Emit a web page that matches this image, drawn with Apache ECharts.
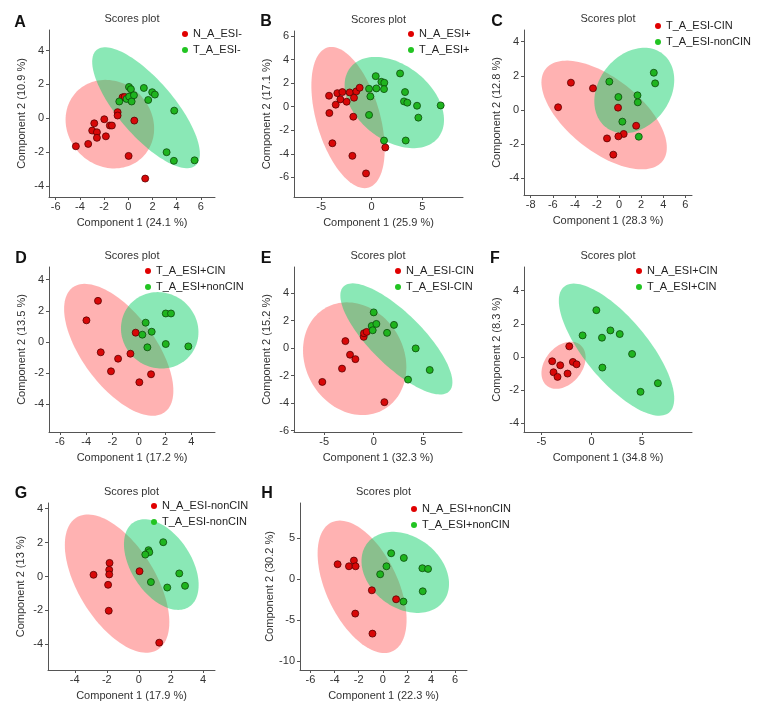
<!DOCTYPE html>
<html>
<head>
<meta charset="utf-8">
<script src="https://cdn.jsdelivr.net/npm/echarts@6/dist/echarts.min.js"></script>
<style>html,body{margin:0;padding:0;background:#fff}#c{width:757px;height:713px}</style>
</head>
<body>
<div id="c"></div>
<script>
// ---------- DATA ----------
const panelLetters = ['A','B','C','D','E','F','G','H'];
const panelTitle = 'Scores plot';
const redNames = ['N_A_ESI-','N_A_ESI+','T_A_ESI-CIN','T_A_ESI+CIN','N_A_ESI-CIN','N_A_ESI+CIN','N_A_ESI-nonCIN','N_A_ESI+nonCIN'];
const greenNames = ['T_A_ESI-','T_A_ESI+','T_A_ESI-nonCIN','T_A_ESI+nonCIN','T_A_ESI-CIN','T_A_ESI+CIN','T_A_ESI-nonCIN','T_A_ESI+nonCIN'];
const xTitles = ['Component 1 (24.1 %)','Component 1 (25.9 %)','Component 1 (28.3 %)','Component 1 (17.2 %)','Component 1 (32.3 %)','Component 1 (34.8 %)','Component 1 (17.9 %)','Component 1 (22.3 %)'];
const yTitles = ['Component 2 (10.9 %)','Component 2 (17.1 %)','Component 2 (12.8 %)','Component 2 (13.5 %)','Component 2 (15.2 %)','Component 2 (8.3 %)','Component 2 (13 %)','Component 2 (30.2 %)'];

const xTicks = [[-6,-4,-2,0,2,4,6],[-5,0,5],[-8,-6,-4,-2,0,2,4,6],[-6,-4,-2,0,2,4],[-5,0,5],[-5,0,5],[-4,-2,0,2,4],[-6,-4,-2,0,2,4,6]];
const yTicks = [[-4,-2,0,2,4],[-6,-4,-2,0,2,4,6],[-4,-2,0,2,4],[-4,-2,0,2,4],[-6,-4,-2,0,2,4],[-4,-2,0,2,4],[-4,-2,0,2,4],[-10,-5,0,5]];
const xRanges = [[-6.55,7.17],[-7.69,9.04],[-8.61,6.61],[-6.83,5.81],[-8.05,8.92],[-6.74,10.0],[-5.67,4.75],[-6.87,6.98]];
const yRanges = [[-4.66,5.22],[-7.66,6.42],[-4.97,4.68],[-5.77,4.81],[-6.1,5.9],[-4.52,5.42],[-5.51,4.33],[-11.1,9.33]];

const A_red = [[-4.33,-1.66],[-3.31,-1.52],[-2.98,-0.73],[-2.81,-0.30],[-2.59,-0.83],[-2.59,-1.16],[-1.98,-0.06],[-1.85,-1.07],[-1.52,-0.43],[-1.35,-0.43],[-0.88,0.36],[-0.88,0.16],[-0.47,1.24],[-0.30,1.26],[0.50,-0.14],[0.03,-2.23],[1.40,-3.57]];
const A_green = [[-0.74,0.99],[0.06,1.85],[0.22,1.72],[-0.14,1.14],[0.08,1.28],[0.28,0.99],[0.47,1.36],[1.29,1.79],[1.65,1.08],[1.98,1.54],[2.20,1.40],[3.80,0.45],[3.17,-2.01],[3.77,-2.52],[5.48,-2.49]];
const B_red = [[-4.22,0.93],[-4.19,-0.54],[-3.56,0.17],[-3.40,1.15],[-3.10,0.62],[-2.90,1.24],[-2.48,0.42],[-2.18,1.21],[-1.75,0.76],[-1.52,1.30],[-1.19,1.61],[-1.82,-0.85],[-3.89,-3.10],[-1.91,-4.17],[-0.56,-5.66],[1.35,-3.46]];
const B_green = [[0.40,2.59],[0.96,2.11],[1.25,2.03],[2.81,2.82],[-0.26,1.52],[0.46,1.55],[1.22,1.49],[-0.13,0.87],[3.30,1.24],[3.20,0.45],[3.53,0.34],[4.49,0.08],[4.62,-0.93],[6.83,0.11],[-0.26,-0.70],[1.22,-2.87],[3.37,-2.87]];
const C_red = [[-4.36,1.60],[-2.36,1.27],[-5.52,0.16],[-0.09,0.14],[1.55,-0.92],[0.42,-1.40],[-0.06,-1.54],[-1.09,-1.66],[-0.52,-2.61]];
const C_green = [[-0.88,1.66],[-0.06,0.76],[1.67,0.86],[1.70,0.45],[3.15,2.18],[3.27,1.56],[0.30,-0.68],[1.79,-1.56]];
const D_red = [[-3.10,2.64],[-3.98,1.39],[-2.89,-0.66],[-1.57,-1.07],[-2.11,-1.88],[-0.63,-0.75],[-0.23,0.60],[0.05,-2.58],[0.94,-2.07]];
const D_green = [[0.53,1.24],[0.28,0.47],[0.99,0.66],[0.66,-0.34],[2.06,1.83],[2.46,1.83],[2.06,-0.13],[3.78,-0.28]];
const E_red = [[-5.19,-2.46],[-3.20,-1.49],[-2.86,0.51],[-2.39,-0.48],[-1.85,-0.80],[-1.01,0.82],[-0.98,1.08],[-0.71,1.18],[1.08,-3.93]];
const E_green = [[0.0,2.60],[-0.20,1.61],[-0.10,1.30],[0.27,1.76],[2.05,1.69],[1.35,1.11],[4.24,-0.02],[3.47,-2.29],[5.66,-1.59]];
const F_red = [[-2.23,0.64],[-3.93,-0.26],[-3.80,-0.92],[-3.40,-1.20],[-3.13,-0.50],[-2.40,-1.00],[-1.87,-0.30],[-1.50,-0.44]];
const F_green = [[0.47,2.82],[-0.90,1.30],[1.03,1.16],[1.87,1.60],[2.80,1.38],[4.03,0.18],[1.07,-0.64],[4.87,-2.10],[6.60,-1.58]];
const G_red = [[-2.83,0.10],[-1.83,0.80],[-1.85,0.39],[-1.85,0.12],[-1.92,-0.49],[-1.88,-2.02],[0.04,0.31],[1.27,-3.90]];
const G_green = [[1.52,2.02],[0.60,1.55],[0.65,1.43],[0.40,1.29],[0.75,-0.33],[1.77,-0.65],[2.52,0.18],[2.88,-0.55]];
const H_red = [[-3.75,1.84],[-2.81,1.59],[-2.40,2.29],[-2.26,1.59],[-2.29,-4.20],[-0.91,-1.35],[-0.86,-6.65],[1.10,-2.45]];
const H_green = [[0.69,3.18],[1.74,2.61],[0.30,1.59],[-0.22,0.61],[3.28,1.35],[3.75,1.27],[3.31,-1.47],[1.71,-2.73]];

// confidence ellipses: [centerX, centerY, halfWidthX, halfHeightY, correlation]
const redEllipses = [[-1.52,-0.35,3.66,2.62,-0.1],[-2.34,-0.92,3.63,5.99,-0.45],[-1.35,-0.29,5.68,3.18,-0.6],[-1.52,-0.5,4.16,4.23,-0.62],[-1.92,-0.77,5.22,4.1,-0.15],[-2.8,-0.5,2.2,1.42,0.33],[-1.36,-0.42,3.26,4.07,-0.56],[-1.72,-0.92,3.69,8.1,-0.5]];
const greenEllipses = [[1.47,0.62,4.45,3.58,-0.76],[2.24,0.35,4.92,3.87,-0.38],[1.38,1.14,3.62,2.5,0.25],[1.6,0.75,2.95,2.45,-0.05],[2.29,0.67,5.66,4.04,-0.78],[2.48,0.44,5.75,3.98,-0.74],[1.4,0.7,2.33,2.67,-0.45],[1.86,0.84,3.63,4.96,-0.28]];

const redPoints = [A_red,B_red,C_red,D_red,E_red,F_red,G_red,H_red];
const greenPoints = [A_green,B_green,C_green,D_green,E_green,F_green,G_green,H_green];

// ---------- LAYOUT ----------
const grids = [
  {left:49, top:30, width:166, height:167},
  {left:294, top:31, width:169, height:166},
  {left:524, top:30, width:168, height:165},
  {left:49, top:267, width:166, height:165},
  {left:294, top:267, width:168, height:165},
  {left:524, top:267, width:168, height:165},
  {left:48, top:503, width:167, height:167},
  {left:300, top:503, width:167, height:167}
];
const legendPos = [[182,28],[408,28],[655,20],[145,265],[395,265],[636,265],[151,500],[411,503]];
const letterPos = [[20,23],[266,22],[497,22],[21,259],[266,259],[495,259],[21,494],[267,494]];

const FONT = 'Liberation Sans';
const RED_FILL = 'rgba(255,0,0,0.30)';
const GREEN_FILL = 'rgba(0,205,95,0.46)';
const RED_PT = '#d80808', RED_BORDER = '#5a0000';
const GREEN_PT = '#1fb41f', GREEN_BORDER = '#0b4a0b';

function renderEllipse(params, api){
  const cx = api.value(0), cy = api.value(1), sx = api.value(2), sy = api.value(3), r = api.value(4);
  const k = Math.sqrt(1 - r*r);
  const pts = [];
  for (let i = 0; i < 120; i++){
    const t = 2*Math.PI*i/120;
    pts.push(api.coord([cx + sx*Math.cos(t), cy + sy*(r*Math.cos(t) + k*Math.sin(t))]));
  }
  return {type:'polygon', shape:{points:pts}, style:{fill: api.visual('color')}, silent:true};
}

const option = {animation:false, grid:[], xAxis:[], yAxis:[], series:[], legend:[], graphic:[]};
const axisCommon = {
  type:'value', splitLine:{show:false},
  axisLine:{onZero:false, lineStyle:{color:'#555', width:1}},
  nameLocation:'middle',
  nameTextStyle:{fontFamily:FONT, fontSize:11, color:'#333'}
};
for (let i = 0; i < 8; i++){
  option.grid.push(Object.assign({containLabel:false}, grids[i]));
  option.xAxis.push(Object.assign({}, axisCommon, {
    gridIndex:i, min:xRanges[i][0], max:xRanges[i][1], name:xTitles[i], nameGap:20,
    axisTick:{show:true, length:3, customValues:xTicks[i], lineStyle:{color:'#555'}},
    axisLabel:{customValues:xTicks[i], fontFamily:FONT, fontSize:11, color:'#333', margin:4}
  }));
  option.yAxis.push(Object.assign({}, axisCommon, {
    gridIndex:i, min:yRanges[i][0], max:yRanges[i][1], name:yTitles[i], nameGap:22,
    axisTick:{show:true, length:3, customValues:yTicks[i], lineStyle:{color:'#555'}},
    axisLabel:{customValues:yTicks[i], fontFamily:FONT, fontSize:11, color:'#333', margin:5}
  }));
  option.series.push({type:'custom', xAxisIndex:i, yAxisIndex:i, renderItem:renderEllipse, itemStyle:{color:RED_FILL}, data:[redEllipses[i]], z:1, silent:true});
  option.series.push({type:'custom', xAxisIndex:i, yAxisIndex:i, renderItem:renderEllipse, itemStyle:{color:GREEN_FILL}, data:[greenEllipses[i]], z:2, silent:true});
  option.series.push({type:'scatter', name:redNames[i], xAxisIndex:i, yAxisIndex:i, data:redPoints[i], symbolSize:7, z:3,
    itemStyle:{color:RED_PT, borderColor:RED_BORDER, borderWidth:0.8, opacity:1}});
  option.series.push({type:'scatter', name:greenNames[i], xAxisIndex:i, yAxisIndex:i, data:greenPoints[i], symbolSize:7, z:4,
    itemStyle:{color:GREEN_PT, borderColor:GREEN_BORDER, borderWidth:0.8, opacity:1}});
  option.legend.push({
    left:legendPos[i][0], top:legendPos[i][1], orient:'vertical', selectedMode:false,
    itemWidth:6, itemHeight:6, itemGap:4, icon:'circle', padding:0,
    textStyle:{fontFamily:FONT, fontSize:11, color:'#222', lineHeight:12},
    data:[{name:redNames[i], itemStyle:{color:'#e00000', borderWidth:0}}, {name:greenNames[i], itemStyle:{color:'#22c422', borderWidth:0}}]
  });
  const g = grids[i];
  option.graphic.push({type:'text', x:g.left + g.width/2, y:g.top - 11, style:{text:panelTitle, font:'11px "'+FONT+'"', fill:'#333', textAlign:'center', textVerticalAlign:'middle'}});
  option.graphic.push({type:'text', x:letterPos[i][0], y:letterPos[i][1], style:{text:panelLetters[i], font:'bold 16px "'+FONT+'"', fill:'#111', textAlign:'center', textVerticalAlign:'middle'}});
}
const chart = echarts.init(document.getElementById('c'), null, {renderer:'canvas'});
chart.setOption(option);
</script>
</body>
</html>
